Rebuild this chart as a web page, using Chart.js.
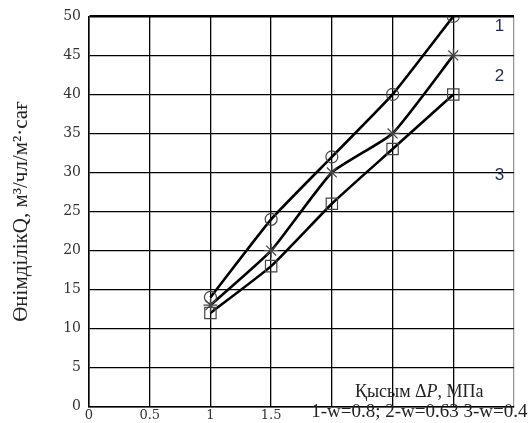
<!DOCTYPE html>
<html lang="kk">
<head>
  <meta charset="UTF-8" />
  <title>Өнімділік</title>
  <script src="https://cdn.jsdelivr.net/npm/chart.js"></script>
  <style>
    html, body { margin: 0; padding: 0; background: #fff; }
    #wrap { width: 532px; height: 423px; }
  </style>
</head>
<body>
  <div id="wrap"><canvas id="chart" width="532" height="423"></canvas></div>
  <script>
    // қысым, МПа
    const pressure = [1, 1.5, 2, 2.5, 3];
    const series1 = [14, 24, 32, 40, 50]; // w=0.8
    const series2 = [13, 20, 30, 35, 45]; // w=0.63
    const series3 = [12, 18, 26, 33, 40]; // w=0.4
    const curveLabels = [
      { text: '1', x: 3.38, y: 48.7 },
      { text: '2', x: 3.38, y: 42.3 },
      { text: '3', x: 3.38, y: 29.7 }
    ];

    const serif = '"Liberation Serif", "DejaVu Serif", serif';
    const tickFont = '"DejaVu Serif", serif';

    function toPoints(values) {
      return pressure.map((p, i) => ({ x: p, y: values[i] }));
    }

    function makeSet(values, style, radius) {
      return {
        data: toPoints(values),
        borderColor: '#000',
        borderWidth: 2.6,
        tension: 0.15,
        pointStyle: style,
        pointRadius: radius,
        pointBorderColor: '#444',
        pointBackgroundColor: 'rgba(0,0,0,0)',
        pointBorderWidth: 1.2
      };
    }

    const notes = {
      id: 'notes',
      afterDraw(chart) {
        const c = chart.ctx;
        const xs = chart.scales.x, ys = chart.scales.y;
        c.save();
        c.fillStyle = '#1f2b55';
        c.font = '17px "Liberation Sans", sans-serif';
        c.textAlign = 'center';
        c.textBaseline = 'middle';
        curveLabels.forEach(l => {
          c.fillText(l.text, xs.getPixelForValue(l.x), ys.getPixelForValue(l.y));
        });

        // подпись оси X внутри поля графика
        c.fillStyle = '#222';
        c.textAlign = 'left';
        const parts = [
          ['18px ' + serif, 'Қысым Δ'],
          ['italic 18px ' + serif, 'P'],
          ['18px ' + serif, ', МПа']
        ];
        let width = 0;
        parts.forEach(p => { c.font = p[0]; width += c.measureText(p[1]).width; });
        let px = xs.getPixelForValue(2.72) - width / 2;
        const py = ys.getPixelForValue(1.9);
        parts.forEach(p => {
          c.font = p[0];
          c.fillText(p[1], px, py);
          px += c.measureText(p[1]).width;
        });

        c.textAlign = 'center';
        c.font = '19px ' + serif;
        c.fillText('1-w=0.8; 2-w=0.63 3-w=0.4', xs.getPixelForValue(2.72), ys.getPixelForValue(-0.7));
        c.restore();
      }
    };

    new Chart(document.getElementById('chart'), {
      type: 'line',
      data: {
        datasets: [
          makeSet(series1, 'circle', 6),
          makeSet(series2, 'star', 7),
          makeSet(series3, 'rect', 8)
        ]
      },
      options: {
        responsive: false,
        animation: false,
        layout: { padding: { top: 16, right: 18, left: 0, bottom: 0 } },
        plugins: { legend: { display: false }, tooltip: { enabled: false } },
        scales: {
          x: {
            type: 'linear',
            min: 0,
            max: 3.5,
            afterFit(s) { s.height = 16; },
            ticks: {
              stepSize: 0.5,
              padding: 1,
              color: '#333',
              font: { family: tickFont, size: 13 },
              callback: v => (v >= 2 ? '' : v)
            },
            grid: {
              color: ctx => (ctx.tick && ctx.tick.value === 3.5 ? '#999' : '#000'),
              lineWidth: 1.3,
              drawTicks: false
            },
            border: { color: '#000', width: 1.5 }
          },
          y: {
            min: 0,
            max: 50,
            afterFit(s) { s.width = 89; },
            ticks: {
              stepSize: 5,
              padding: 8,
              color: '#333',
              font: { family: tickFont, size: 14 }
            },
            grid: {
              color: '#000',
              lineWidth: ctx => (ctx.tick && ctx.tick.value === 50 ? 2.6 : 1.3),
              drawTicks: false
            },
            border: { color: '#000', width: 1.5 },
            title: {
              display: true,
              text: 'ӨнімділікQ, м³/чл/м²·сағ',
              color: '#222',
              font: { family: serif, size: 21 },
              padding: { top: 9, bottom: 0 }
            }
          }
        }
      },
      plugins: [notes]
    });
  </script>
</body>
</html>
